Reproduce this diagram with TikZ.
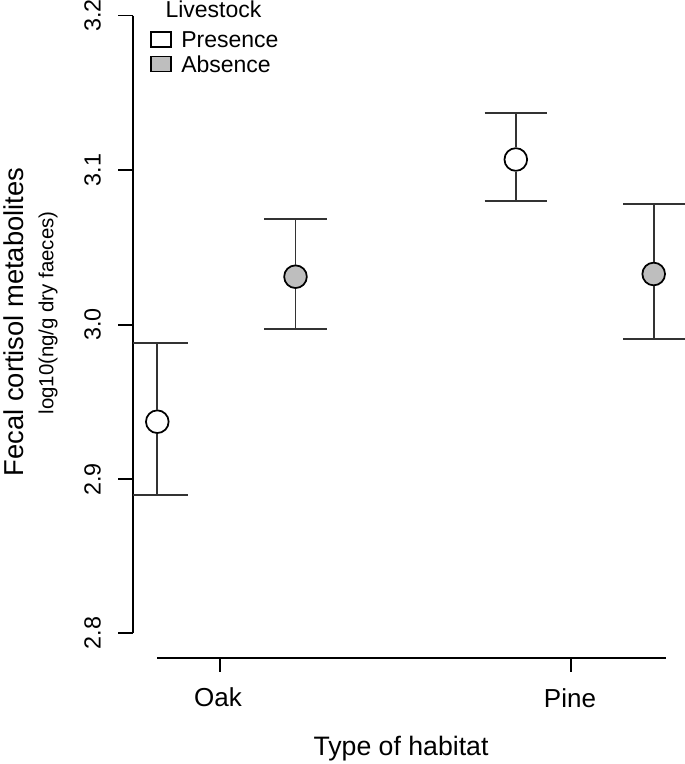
\documentclass[tikz,border=0pt]{standalone}
\usepackage{fontspec}
\setmainfont{Liberation Sans}
\definecolor{barcol}{rgb}{0.2,0.2,0.2}
\definecolor{absfill}{rgb}{0.745,0.745,0.745}
\tikzset{
  axisline/.style={line width=1.3pt, black},
  barline/.style={line width=1.3pt, barcol},
  ptmark/.style={circle, draw=black, line width=1.3pt, minimum size=17pt, inner sep=0pt},
  legbox/.style={rectangle, draw=black, line width=1.2pt, minimum width=15pt, minimum height=11pt, inner sep=0pt},
  ytick/.style={rotate=90, font=\fontsize{17.5pt}{20pt}\selectfont},
  xtick/.style={font=\fontsize{19.5pt}{23pt}\selectfont},
  legtext/.style={anchor=west, inner sep=0pt, font=\fontsize{17.25pt}{20pt}\selectfont}
}
\begin{document}
\begin{tikzpicture}[x=0.75pt,y=-0.75pt]
\useasboundingbox (0,0) rectangle (685,764);
% y axis
\coordinate (ya) at (133,15.5);
\coordinate (yb) at (133,633);
\draw[axisline] (ya) -- (yb);
\foreach \v/\yy [count=\i] in {3.2/15.5,3.1/170,3.0/324.7,2.9/479.3,2.8/633}{
  \coordinate (yt\i) at (133,\yy);
  \draw[axisline] (yt\i) -- ++(-15,0);
  \node[ytick] (yl\i) at (92.5,\yy) {\v};
}
% x axis
\coordinate (xa) at (157,658.3);
\coordinate (xb) at (666,658.3);
\draw[axisline] (xa) -- (xb);
\coordinate (toak) at (220,658.3);
\coordinate (tpine) at (571,658.3);
\draw[axisline] (toak) -- ++(0,14);
\draw[axisline] (tpine) -- ++(0,14);
\node[xtick] (loak) at (218,697) {Oak};
\node[xtick] (lpine) at (570,698) {Pine};
% axis titles
\node[font=\fontsize{20pt}{24pt}\selectfont] (xtitle) at (401,749) {Type of habitat};
\node[rotate=90, font=\fontsize{20.5pt}{24pt}\selectfont] (ytitle) at (14,322) {Fecal cortisol metabolites};
\node[rotate=90, font=\fontsize{15.3pt}{18pt}\selectfont] (ysub) at (48,313) {log10(ng/g dry faeces)};
% Oak presence
\coordinate (oakPt) at (157.3,343);
\coordinate (oakPb) at (157.3,495.3);
\node[ptmark, fill=white] (oakP) at (157.3,421.7) {};
\draw[barline] (oakPt) -- (oakP.north);
\draw[barline] (oakP.south) -- (oakPb);
\draw[barline] (133.3,343) -- (188,343);
\draw[barline] (133.3,495.3) -- (188,495.3);
% Oak absence
\coordinate (oakAt) at (295.5,219.3);
\coordinate (oakAb) at (295.5,329);
\node[ptmark, fill=absfill] (oakA) at (295.5,276.7) {};
\draw[barline] (oakAt) -- (oakA.north);
\draw[barline] (oakA.south) -- (oakAb);
\draw[barline] ([xshift=-23.6pt]oakAt) -- ([xshift=23.6pt]oakAt);
\draw[barline] ([xshift=-23.6pt]oakAb) -- ([xshift=23.6pt]oakAb);
% Pine presence
\coordinate (pinePt) at (515.8,112.7);
\coordinate (pinePb) at (515.8,201.3);
\node[ptmark, fill=white] (pineP) at (515.8,159.5) {};
\draw[barline] (pinePt) -- (pineP.north);
\draw[barline] (pineP.south) -- (pinePb);
\draw[barline] ([xshift=-23.3pt]pinePt) -- ([xshift=23.3pt]pinePt);
\draw[barline] ([xshift=-23.3pt]pinePb) -- ([xshift=23.3pt]pinePb);
% Pine absence
\coordinate (pineAt) at (653.7,204.3);
\coordinate (pineAb) at (653.7,339.3);
\node[ptmark, fill=absfill] (pineA) at (653.7,274) {};
\draw[barline] (pineAt) -- (pineA.north);
\draw[barline] (pineA.south) -- (pineAb);
\draw[barline] (623.3,204.3) -- (685,204.3);
\draw[barline] (623.3,339.3) -- (685,339.3);
% legend
\node[anchor=center, inner sep=0pt, font=\fontsize{17.25pt}{20pt}\selectfont] (legtitle) at (213.5,9.5) {Livestock};
\node[legbox, fill=white] (boxP) at (161,39.5) {};
\node[legbox, fill=absfill] (boxA) at (161,64) {};
\node[legtext] (txtP) at (181,40) {Presence};
\node[legtext] (txtA) at (181,64) {Absence};
\end{tikzpicture}
\end{document}
